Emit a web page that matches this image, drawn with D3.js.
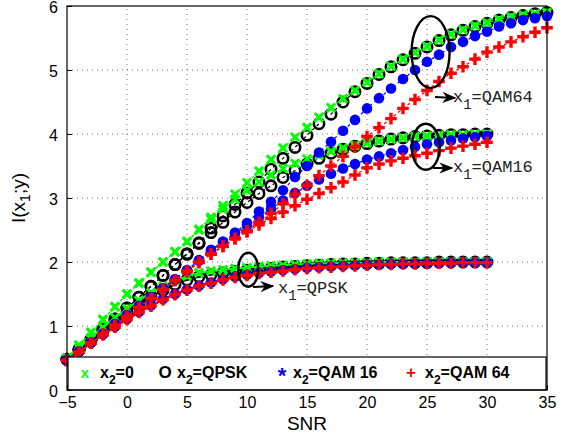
<!DOCTYPE html>
<html>
<head>
<meta charset="utf-8">
<script src="https://cdn.jsdelivr.net/npm/d3@7"></script>
<style>
  html, body { margin: 0; padding: 0; background: #fff; }
  svg { display: block; }
</style>
</head>
<body>
<svg id="chart" width="575" height="439"></svg>
<script>
// SNR grids (dB)
const snrShort = [-5,-4,-3,-2,-1,0,1,2,3,4,5,6,7,8,9,10,11,12,13,14,15,16,17,18,19,20,21,22,23,24,25,26,27,28,29,30];
const snrLong  = [-5,-4,-3,-2,-1,0,1,2,3,4,5,6,7,8,9,10,11,12,13,14,15,16,17,18,19,20,21,22,23,24,25,26,27,28,29,30,31,32,33,34,35];

// x1 = QPSK
const qpskNone  = [0.50,0.66,0.82,0.98,1.13,1.27,1.40,1.52,1.62,1.71,1.78,1.83,1.86,1.88,1.90,1.91,1.93,1.94,1.95,1.96,1.97,1.98,1.98,1.99,1.99,1.99,2.00,2.00,2.00,2.00,2.00,2.00,2.00,2.00,2.00,2.00];
const qpskQpsk  = [0.48,0.63,0.78,0.93,1.07,1.21,1.34,1.46,1.56,1.65,1.72,1.77,1.80,1.83,1.85,1.87,1.89,1.90,1.92,1.93,1.94,1.95,1.96,1.97,1.97,1.98,1.98,1.99,1.99,1.99,1.99,2.00,2.00,2.00,2.00,2.00];
const qpskQam16 = [0.47,0.60,0.74,0.87,0.99,1.11,1.22,1.32,1.42,1.50,1.57,1.63,1.68,1.73,1.77,1.80,1.83,1.85,1.87,1.89,1.91,1.92,1.93,1.94,1.95,1.96,1.96,1.97,1.97,1.98,1.98,1.98,1.99,1.99,1.99,1.99];
const qpskQam64 = [0.46,0.59,0.73,0.86,0.98,1.10,1.21,1.31,1.41,1.49,1.56,1.62,1.67,1.72,1.76,1.79,1.82,1.84,1.86,1.88,1.90,1.91,1.92,1.93,1.94,1.95,1.96,1.96,1.97,1.97,1.98,1.98,1.98,1.99,1.99,1.99];

// x1 = QAM16
const q16None  = [0.50,0.70,0.90,1.10,1.30,1.50,1.67,1.84,2.00,2.16,2.32,2.50,2.67,2.83,2.98,3.12,3.25,3.36,3.46,3.54,3.61,3.67,3.73,3.78,3.82,3.86,3.89,3.92,3.94,3.96,3.97,3.98,3.99,3.99,4.00,4.00];
const q16Qpsk  = [0.48,0.63,0.79,0.95,1.11,1.28,1.45,1.62,1.79,1.96,2.12,2.29,2.46,2.62,2.78,2.93,3.07,3.19,3.32,3.43,3.53,3.62,3.70,3.76,3.81,3.85,3.89,3.92,3.94,3.96,3.97,3.98,3.99,3.99,4.00,4.00];
const q16Qam16 = [0.47,0.60,0.74,0.88,1.03,1.17,1.31,1.45,1.59,1.73,1.87,2.02,2.17,2.31,2.44,2.57,2.70,2.83,2.96,3.08,3.19,3.29,3.38,3.46,3.53,3.60,3.65,3.70,3.75,3.80,3.84,3.87,3.90,3.93,3.95,3.97];
const q16Qam64 = [0.46,0.59,0.73,0.87,1.01,1.15,1.29,1.43,1.57,1.71,1.85,1.99,2.12,2.24,2.36,2.47,2.58,2.68,2.78,2.88,2.98,3.07,3.16,3.25,3.36,3.47,3.53,3.58,3.62,3.66,3.70,3.74,3.78,3.81,3.84,3.87];

// x1 = QAM64
const q64None  = [0.50,0.70,0.90,1.10,1.30,1.50,1.67,1.84,2.00,2.16,2.32,2.51,2.70,2.88,3.06,3.24,3.42,3.60,3.78,3.95,4.10,4.26,4.41,4.55,4.68,4.81,4.94,5.06,5.17,5.27,5.37,5.47,5.56,5.63,5.69,5.74,5.79,5.83,5.86,5.88,5.90];
const q64Qpsk  = [0.48,0.63,0.79,0.95,1.11,1.28,1.45,1.62,1.79,1.96,2.13,2.30,2.53,2.72,2.90,3.08,3.25,3.45,3.62,3.79,3.98,4.16,4.31,4.50,4.66,4.79,4.93,5.05,5.16,5.26,5.36,5.46,5.55,5.62,5.68,5.73,5.78,5.82,5.85,5.88,5.90];
const q64Qam16 = [0.47,0.60,0.74,0.88,1.03,1.17,1.31,1.45,1.59,1.73,1.87,2.03,2.19,2.32,2.46,2.61,2.79,2.94,3.12,3.33,3.50,3.71,3.88,4.05,4.22,4.40,4.56,4.71,4.86,5.00,5.13,5.24,5.36,5.44,5.53,5.60,5.68,5.73,5.78,5.81,5.84];
const q64Qam64 = [0.46,0.59,0.73,0.87,1.01,1.15,1.29,1.43,1.57,1.71,1.86,2.00,2.13,2.25,2.37,2.49,2.62,2.76,2.91,3.06,3.20,3.35,3.50,3.65,3.80,3.96,4.10,4.24,4.40,4.54,4.68,4.82,4.95,5.05,5.17,5.28,5.36,5.44,5.52,5.59,5.66];

// axis ticks
const xTicks = [-5,0,5,10,15,20,25,30,35];
const yTicks = [0,1,2,3,4,5,6];

// legend entries: marker glyph, colour, constellation of x2
const legendGlyphs = ["x","O","*","+"];
const legendColors = ["#00ff00","#000000","#0000ff","#ff0000"];
const legendNames  = ["0","QPSK","QAM 16","QAM 64"];

const svg = d3.select("#chart");
const margin = {left: 67, right: 28, top: 6, bottom: 49};
const W = 575, H = 439;
const x = d3.scaleLinear().domain([-5, 35]).range([margin.left, W - margin.right]);
const y = d3.scaleLinear().domain([0, 6]).range([H - margin.bottom, margin.top]);

// dotted grid
const grid = svg.append("g").attr("stroke", "#000").attr("stroke-width", 1)
  .attr("stroke-dasharray", "1,4").attr("opacity", 0.55);
xTicks.slice(1, -1).forEach(t => grid.append("line")
  .attr("x1", x(t)).attr("x2", x(t)).attr("y1", y(0)).attr("y2", y(6)));
yTicks.slice(1, -1).forEach(t => grid.append("line")
  .attr("x1", x(-5)).attr("x2", x(35)).attr("y1", y(t)).attr("y2", y(t)));

// axes with inward ticks
const font = "'Liberation Sans', Arial, sans-serif";
const xAxis = svg.append("g").attr("transform", `translate(0,${y(0)})`)
  .call(d3.axisBottom(x).tickValues(xTicks).tickSize(-5).tickPadding(8)
    .tickFormat(d => d < 0 ? "\u2212" + Math.abs(d) : String(d)));
const yAxis = svg.append("g").attr("transform", `translate(${x(-5)},0)`)
  .call(d3.axisLeft(y).tickValues(yTicks).tickSize(-5).tickPadding(9).tickFormat(d3.format("d")));
[xAxis, yAxis].forEach(a => {
  a.select(".domain").remove();
  a.selectAll("text").attr("font-family", font).attr("font-size", 16).attr("fill", "#000");
  a.selectAll(".tick line").attr("stroke", "#000");
});
xAxis.selectAll("text").attr("dy", "0.6em");
yAxis.selectAll("text").attr("dy", "0.42em");

// series definitions
const groups = [
  {snr: snrShort, series: [qpskQpsk, qpskNone, qpskQam16, qpskQam64], solid: true},
  {snr: snrShort, series: [q16Qpsk, q16None, q16Qam16, q16Qam64], solid: false},
  {snr: snrLong,  series: [q64Qpsk, q64None, q64Qam16, q64Qam64], solid: false}
];
const kinds = ["o", "x", "*", "+"];
const kindColor = {o: "#000000", x: "#00ff00", "*": "#0000ff", "+": "#ff0000"};

const plot = svg.append("g");
const line = d3.line();

function drawMarker(g, kind, px, py) {
  const c = kindColor[kind];
  if (kind === "o") {
    g.append("circle").attr("cx", px).attr("cy", py).attr("r", 5.2)
      .attr("fill", "none").attr("stroke", c).attr("stroke-width", 2.6);
  } else if (kind === "x") {
    const s = 4.2;
    g.append("path").attr("d", `M${px-s},${py-s}L${px+s},${py+s}M${px-s},${py+s}L${px+s},${py-s}`)
      .attr("stroke", c).attr("stroke-width", 3).attr("fill", "none");
  } else if (kind === "*") {
    g.append("circle").attr("cx", px).attr("cy", py).attr("r", 5.3).attr("fill", c);
  } else {
    const s = 5.8;
    g.append("path").attr("d", `M${px-s},${py}L${px+s},${py}M${px},${py-s}L${px},${py+s}`)
      .attr("stroke", c).attr("stroke-width", 3.4).attr("fill", "none");
  }
}

kinds.forEach((k, ki) => {
  groups.forEach(gr => {
    const vals = gr.series[ki];
    const pts = gr.snr.map((s, i) => [x(s), y(vals[i])]);
    plot.append("path").attr("d", line(pts)).attr("fill", "none")
      .attr("stroke", kindColor[k])
      .attr("stroke-width", gr.solid ? 2 : 1.2)
      .attr("stroke-dasharray", gr.solid ? null : "3,3");
    const mg = plot.append("g");
    pts.forEach(p => drawMarker(mg, k, p[0], p[1]));
  });
});

// annotations: ellipse, arrow and label per x1 constellation
const notes = [
  {snr: 25.3, v: 5.28, rx: 19, ry: 36, ax: [435, 97, 455, 98], lx: 453, ly: 102, name: "QAM64"},
  {snr: 24.9, v: 3.80, rx: 14, ry: 23, ax: [433, 168, 452, 168], lx: 453, ly: 172, name: "QAM16"},
  {snr: 10.1, v: 1.88, rx: 10, ry: 17, ax: [253, 287, 273, 286], lx: 278, ly: 293, name: "QPSK"}
];
const defs = svg.append("defs");
defs.append("marker").attr("id", "arrow").attr("viewBox", "0 0 10 10").attr("refX", 9).attr("refY", 5)
  .attr("markerWidth", 7).attr("markerHeight", 7).attr("orient", "auto")
  .append("path").attr("d", "M0,1L10,5L0,9L3,5Z").attr("fill", "#000");
const ann = svg.append("g");
notes.forEach(n => {
  ann.append("ellipse").attr("cx", x(n.snr)).attr("cy", y(n.v)).attr("rx", n.rx).attr("ry", n.ry)
    .attr("fill", "none").attr("stroke", "#000").attr("stroke-width", 2.4);
  ann.append("line").attr("x1", n.ax[0]).attr("y1", n.ax[1]).attr("x2", n.ax[2]).attr("y2", n.ax[3])
    .attr("stroke", "#000").attr("stroke-width", 2).attr("marker-end", "url(#arrow)");
  const t = ann.append("text").attr("x", n.lx).attr("y", n.ly)
    .attr("font-family", "'Liberation Mono', 'Courier New', monospace").attr("font-size", 17).attr("fill", "#222");
  t.append("tspan").text("x");
  t.append("tspan").attr("dy", 7).attr("font-size", 14).text("1");
  t.append("tspan").attr("dy", -7).text("=" + n.name);
});

// legend box along the bottom of the axes
const lg = svg.append("g");
lg.append("rect").attr("x", x(-5) + 1).attr("y", 357).attr("width", x(35) - x(-5) - 2).attr("height", y(0) - 357)
  .attr("fill", "#fff").attr("stroke", "#000").attr("stroke-width", 1.2);
const glyphX = [85, 165, 282, 411];
const textX  = [100, 177, 293, 425];
legendGlyphs.forEach((g, i) => {
  lg.append("text").attr("x", glyphX[i]).attr("y", g === "*" ? 383 : 378).attr("text-anchor", "middle")
    .attr("font-family", font).attr("font-weight", "bold")
    .attr("font-size", g === "*" ? 22 : (g === "x" ? 15 : 17)).attr("fill", legendColors[i]).text(g);
  const t = lg.append("text").attr("x", textX[i]).attr("y", 378)
    .attr("font-family", font).attr("font-weight", "bold").attr("font-size", 16).attr("fill", "#000");
  t.append("tspan").text("x");
  t.append("tspan").attr("dy", 6).attr("font-size", 12).text("2");
  t.append("tspan").attr("dy", -6).text("=" + legendNames[i]);
});

// frame
svg.append("rect").attr("x", x(-5)).attr("y", y(6)).attr("width", x(35) - x(-5)).attr("height", y(0) - y(6))
  .attr("fill", "none").attr("stroke", "#000").attr("stroke-width", 1.2);

// axis titles
svg.append("text").attr("x", (x(-5) + x(35)) / 2).attr("y", 430).attr("text-anchor", "middle")
  .attr("font-family", font).attr("font-size", 19).text("SNR");
const yl = svg.append("text").attr("transform", `translate(25,${(y(0) + y(6)) / 2}) rotate(-90)`)
  .attr("text-anchor", "middle").attr("font-family", font).attr("font-size", 19);
yl.append("tspan").text("I(x");
yl.append("tspan").attr("dy", 5).attr("font-size", 14).text("1");
yl.append("tspan").attr("dy", -5).text(";y)");
</script>
</body>
</html>
